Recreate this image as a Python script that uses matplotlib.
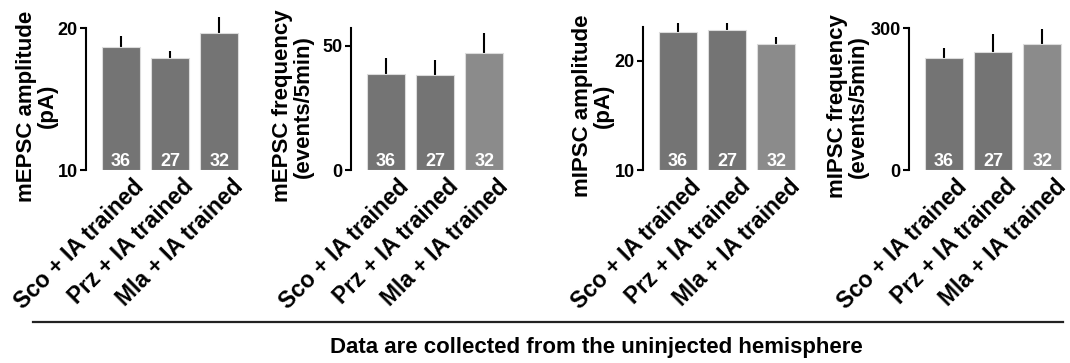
import matplotlib
matplotlib.use("Agg")
import matplotlib.pyplot as plt
from matplotlib.lines import Line2D
from matplotlib.transforms import ScaledTranslation

plt.rcParams["font.family"] = ["Liberation Sans", "DejaVu Sans"]
plt.rcParams["font.weight"] = "bold"

groups = ["Sco + IA trained", "Prz + IA trained", "Mla + IA trained"]
n_cells = [36, 27, 32]

mepsc_amp = [18.66, 17.9, 19.67]
mepsc_amp_sem = [0.8, 0.5, 1.13]
mepsc_freq = [38.6, 38.2, 46.9]
mepsc_freq_sem = [6.3, 6.0, 8.1]
mipsc_amp = [22.63, 22.81, 21.56]
mipsc_amp_sem = [0.85, 0.61, 0.58]
mipsc_freq = [237.8, 250.5, 266.8]
mipsc_freq_sem = [19.8, 36.8, 31.1]

DARK = "#747474"
LIGHT = "#8b8b8b"

W, H = 1070, 363
fig = plt.figure(figsize=(W / 100, H / 100), dpi=100)


def panel(left_px, top_px, ylim, yticks, means, sems, colors, ylabel, label_dx):
    bottom_px = 170
    width_px = 3.3 * 49.4
    ax = fig.add_axes([left_px / W, 1 - bottom_px / H, width_px / W, (bottom_px - top_px) / H])
    x = range(len(means))
    ax.bar(x, [m - ylim[0] for m in means], bottom=ylim[0], width=0.77,
           color=colors, edgecolor="#dcdcdc", linewidth=0.8, zorder=2)
    ax.errorbar(x, means, yerr=[[0] * len(sems), sems], fmt="none",
                ecolor="black", elinewidth=1.5, capsize=0, zorder=1, clip_on=False)
    for xi, n in zip(x, n_cells):
        ax.text(xi, ylim[0] + (ylim[1] - ylim[0]) * 0.063, str(n), ha="center", va="center",
                color="white", fontsize=13, fontweight="bold", zorder=3)
    ax.set_xlim(-0.7, 2.6)
    ax.set_ylim(*ylim)
    ax.set_yticks(yticks)
    ax.tick_params(axis="y", length=4, width=1.5, labelsize=13, pad=2)
    ax.tick_params(axis="x", length=0, pad=0)
    ax.set_xticks(list(x))
    ax.set_xticklabels(groups, rotation=45, ha="right", va="top",
                       rotation_mode="anchor", fontsize=16.5, fontweight="bold")
    off = ScaledTranslation(12 / 100, -5 / 100, fig.dpi_scale_trans)
    for lab in ax.get_xticklabels():
        lab.set_transform(lab.get_transform() + off)
    for s in ["top", "right", "bottom"]:
        ax.spines[s].set_visible(False)
    ax.spines["left"].set_linewidth(1.5)
    ax.spines["left"].set_bounds(*ylim)
    ax.set_ylabel(ylabel, fontsize=16, fontweight="bold", linespacing=1.0)
    ax.yaxis.set_label_coords(label_dx / width_px, 0.45)
    return ax


panel(86, 28, (10, 20), [10, 20], mepsc_amp, mepsc_amp_sem,
      [DARK, DARK, DARK], "mEPSC amplitude\n(pA)", -28)
panel(351, 28, (0, 57.1), [0, 50], mepsc_freq, mepsc_freq_sem,
      [DARK, DARK, LIGHT], "mEPSC frequency\n(events/5min)", -37)
panel(643, 27.3, (10, 23.05), [10, 20], mipsc_amp, mipsc_amp_sem,
      [DARK, DARK, LIGHT], "mIPSC amplitude\n(pA)", -29)
panel(909, 28.3, (0, 300), [0, 300], mipsc_freq, mipsc_freq_sem,
      [DARK, DARK, LIGHT], "mIPSC frequency\n(events/5min)", -40)

fig.add_artist(Line2D([33 / W, 1063 / W], [1 - 321.5 / H, 1 - 321.5 / H],
                      transform=fig.transFigure, color="#222222", linewidth=1.6))
fig.text(596 / W, 1 - 347 / H, "Data are collected from the uninjected hemisphere",
         ha="center", va="center", fontsize=16, fontweight="bold")

fig.savefig("out.png", dpi=100)
